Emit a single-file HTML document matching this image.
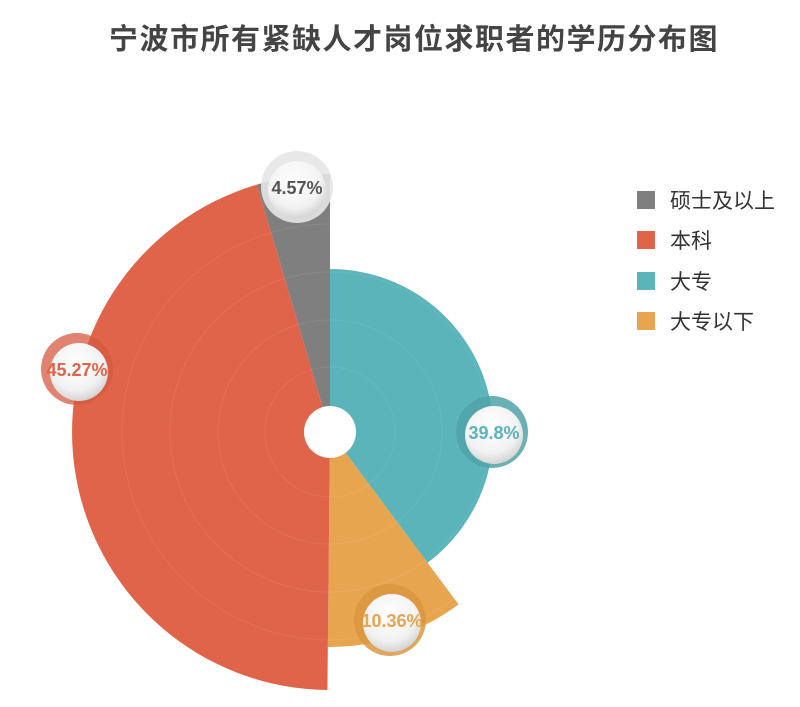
<!DOCTYPE html>
<html><head><meta charset="utf-8"><style>
html,body{margin:0;padding:0;background:#fff;}
svg{display:block;}
</style></head><body>
<svg width="800" height="707" xmlns="http://www.w3.org/2000/svg">
<defs>
<radialGradient id="g" cx="0.45" cy="0.35" r="0.65">
<stop offset="0" stop-color="#ffffff"/><stop offset="0.7" stop-color="#f2f2f2"/><stop offset="1" stop-color="#d4d4d4"/>
</radialGradient>
</defs>
<text x="414" y="49" text-anchor="middle" font-family="Liberation Sans, Noto Sans CJK SC, sans-serif" font-size="29" font-weight="bold" letter-spacing="1.5" fill="#444">宁波市所有紧缺人才岗位求职者的学历分布图</text>
<path d="M330,432 L330,269 A163,163 0 0 1 427.5,562.7 Z" fill="#5ab4b9"/>
<path d="M330,432 L458.6,604.4 A215,215 0 0 1 327.8,647 Z" fill="#e8a550"/>
<path d="M330,432 L327.4,690 A258,258 0 0 1 256.9,184.6 Z" fill="#e0644a"/>
<path d="M330,432 L256.9,184.6 A258,258 0 0 1 330,174 Z" fill="#7f7f7f"/>
<g fill="none" stroke="#fff" stroke-opacity="0.08" stroke-width="1">
<circle cx="330" cy="432" r="65"/><circle cx="330" cy="432" r="112"/><circle cx="330" cy="432" r="160"/><circle cx="330" cy="432" r="208"/>
</g>
<circle cx="330" cy="432" r="26" fill="#fff"/>
<g font-family="Liberation Sans, sans-serif" font-size="18" font-weight="bold" text-anchor="middle">
<circle cx="297" cy="187" r="36" fill="#e6e6e6" opacity="0.9"/><circle cx="297" cy="190" r="29" fill="url(#g)"/>
<text x="297" y="194" fill="#555">4.57%</text>
<circle cx="77" cy="369" r="36" fill="#d65a40" opacity="0.75"/><circle cx="79" cy="372" r="29" fill="url(#g)"/>
<text x="77" y="376" fill="#e0644a">45.27%</text>
<circle cx="492" cy="432" r="36" fill="#4fa3a8" opacity="0.85"/><circle cx="494" cy="435" r="29" fill="url(#g)"/>
<text x="494" y="439" fill="#5ab4b9">39.8%</text>
<circle cx="390" cy="620" r="36" fill="#d9963f" opacity="0.85"/><circle cx="392" cy="623" r="29" fill="url(#g)"/>
<text x="392" y="627" fill="#e8a550">10.36%</text>
</g>
<g font-family="Liberation Sans, Noto Sans CJK SC, sans-serif" font-size="21" fill="#333">
<rect x="637" y="191" width="18" height="18" fill="#7f7f7f"/><text x="670" y="208">硕士及以上</text>
<rect x="637" y="231" width="18" height="18" fill="#e0644a"/><text x="670" y="248">本科</text>
<rect x="637" y="272" width="18" height="18" fill="#5ab4b9"/><text x="670" y="289">大专</text>
<rect x="637" y="312" width="18" height="18" fill="#e8a550"/><text x="670" y="329">大专以下</text>
</g>
</svg>
</body></html>
